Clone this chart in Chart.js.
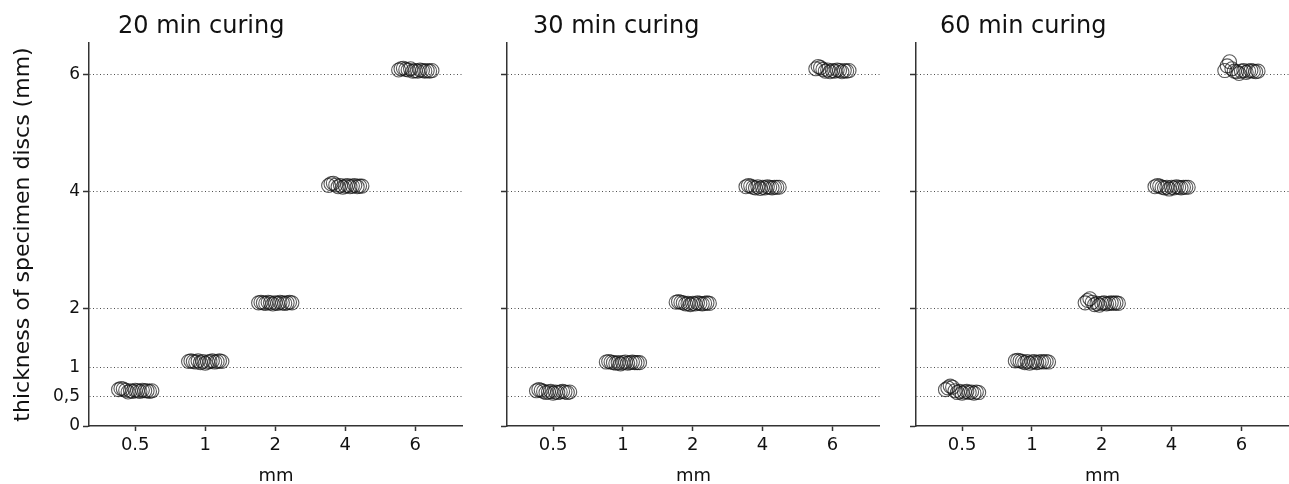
<!DOCTYPE html>
<html>
<head>
<meta charset="utf-8">
<script src="https://cdn.jsdelivr.net/npm/chart.js@4.4.0/dist/chart.umd.min.js"></script>
<style>
  html, body { margin: 0; padding: 0; background: #fff; overflow: hidden; width: 1289px; height: 484px; }
  canvas { position: absolute; top: 0; }
</style>
</head>
<body>
<canvas id="c20" width="471" height="492" style="left:0px"></canvas>
<canvas id="c30" width="408" height="492" style="left:480px"></canvas>
<canvas id="c60" width="407" height="492" style="left:890px"></canvas>
<script>
// categories on the x axis (nominal disc thickness)
const categories = ["0.5", "1", "2", "4", "6"];
const yTickValues = [0, 0.5, 1, 2, 4, 6];
const yTickLabels = ["0", "0,5", "1", "2", "4", "6"];

// measured thickness (mm), one list per category, read left to right
const cure20 = [
  [0.62, 0.64, 0.63, 0.61, 0.58, 0.60, 0.59, 0.61, 0.60, 0.59, 0.61, 0.60, 0.60, 0.59, 0.60],
  [1.10, 1.11, 1.10, 1.09, 1.11, 1.08, 1.10, 1.07, 1.09, 1.10, 1.11, 1.09, 1.10, 1.11, 1.10],
  [2.10, 2.11, 2.10, 2.09, 2.11, 2.10, 2.08, 2.10, 2.09, 2.11, 2.10, 2.09, 2.10, 2.11, 2.10],
  [4.10, 4.13, 4.14, 4.11, 4.08, 4.10, 4.07, 4.09, 4.10, 4.08, 4.09, 4.10, 4.08, 4.09, 4.09],
  [6.07, 6.09, 6.10, 6.08, 6.07, 6.09, 6.05, 6.06, 6.05, 6.07, 6.06, 6.05, 6.06, 6.05, 6.06],
];
const cure30 = [
  [0.60, 0.62, 0.61, 0.59, 0.57, 0.58, 0.59, 0.56, 0.58, 0.57, 0.58, 0.59, 0.58, 0.57, 0.58],
  [1.09, 1.10, 1.09, 1.08, 1.07, 1.08, 1.06, 1.08, 1.09, 1.07, 1.08, 1.09, 1.08, 1.08, 1.08],
  [2.11, 2.12, 2.11, 2.10, 2.08, 2.09, 2.07, 2.09, 2.08, 2.10, 2.09, 2.08, 2.09, 2.10, 2.09],
  [4.08, 4.10, 4.09, 4.07, 4.06, 4.08, 4.05, 4.07, 4.06, 4.08, 4.07, 4.06, 4.07, 4.07, 4.07],
  [6.09, 6.13, 6.11, 6.08, 6.05, 6.07, 6.04, 6.06, 6.05, 6.07, 6.06, 6.04, 6.06, 6.05, 6.06],
];
const cure60 = [
  [0.62, 0.65, 0.68, 0.66, 0.60, 0.57, 0.59, 0.56, 0.58, 0.59, 0.57, 0.58, 0.56, 0.58, 0.57],
  [1.11, 1.12, 1.11, 1.10, 1.08, 1.10, 1.07, 1.09, 1.10, 1.08, 1.09, 1.10, 1.09, 1.10, 1.09],
  [2.10, 2.14, 2.17, 2.11, 2.07, 2.09, 2.06, 2.09, 2.10, 2.08, 2.09, 2.10, 2.09, 2.10, 2.09],
  [4.08, 4.10, 4.09, 4.07, 4.06, 4.07, 4.04, 4.07, 4.06, 4.08, 4.07, 4.06, 4.07, 4.07, 4.07],
  [6.06, 6.14, 6.21, 6.09, 6.05, 6.04, 6.01, 6.05, 6.06, 6.03, 6.05, 6.06, 6.05, 6.04, 6.05],
];

const FONT = "'DejaVu Sans', sans-serif";
const INK = "#111";
const AXIS = "#333";
const SPREAD = 0.034; // horizontal spacing between points in a column

// draws the panel heading ("20 min curing") left aligned above the plot
const panelTitle = {
  id: "panelTitle",
  afterDraw(chart, args, opts) {
    const { ctx, chartArea } = chart;
    ctx.save();
    ctx.font = "24px " + FONT;
    ctx.fillStyle = INK;
    ctx.textBaseline = "alphabetic";
    ctx.fillText(opts.text, chartArea.left + opts.offset, 33);
    ctx.restore();
  },
};

function columnPoints(groups) {
  const pts = [];
  groups.forEach((vals, gi) => {
    vals.forEach((v, i) => {
      pts.push({ x: gi + (i - (vals.length - 1) / 2) * SPREAD, y: v });
    });
  });
  return pts;
}

function makePanel(id, title, groups, showY, axisWidth, titleOffset) {
  const ctx = document.getElementById(id).getContext("2d");
  return new Chart(ctx, {
    type: "scatter",
    data: {
      datasets: [
        {
          data: columnPoints(groups),
          pointRadius: 7,
          pointBorderWidth: 1.1,
          pointBorderColor: "rgba(20,20,20,0.7)",
          pointBackgroundColor: "rgba(0,0,0,0)",
          showLine: false,
        },
      ],
    },
    options: {
      responsive: false,
      animation: false,
      events: [],
      layout: { padding: { top: 43, left: 0, right: 0, bottom: 0 } },
      plugins: {
        legend: { display: false },
        tooltip: { enabled: false },
        panelTitle: { text: title, offset: titleOffset },
      },
      scales: {
        x: {
          type: "linear",
          min: -0.66,
          max: 4.68,
          afterBuildTicks: (scale) => {
            scale.ticks = categories.map((c, i) => ({ value: i }));
          },
          afterFit: (scale) => {
            scale.height = 66;
          },
          ticks: {
            callback: (v) => categories[v],
            font: { family: FONT, size: 18 },
            color: INK,
            padding: 4,
            maxRotation: 0,
            autoSkip: false,
          },
          grid: {
            drawOnChartArea: false,
            drawTicks: true,
            tickLength: 5,
            tickColor: AXIS,
            tickWidth: 1.5,
          },
          border: { color: AXIS, width: 1.5 },
          title: {
            display: true,
            text: "mm",
            font: { family: FONT, size: 18 },
            color: INK,
            padding: { top: 0, bottom: 5 },
          },
        },
        y: {
          type: "linear",
          min: 0,
          max: 6.53,
          afterBuildTicks: (scale) => {
            scale.ticks = yTickValues.map((v) => ({ value: v }));
          },
          afterFit: (scale) => {
            scale.width = axisWidth;
          },
          ticks: {
            display: showY,
            callback: (v) => yTickLabels[yTickValues.indexOf(v)],
            font: { family: FONT, size: 17 },
            color: INK,
            padding: 3,
            autoSkip: false,
          },
          grid: {
            color: (c) => (c.tick && c.tick.value === 0 ? "rgba(0,0,0,0)" : "rgba(60,60,60,0.9)"),
            lineWidth: 1,
            drawTicks: true,
            tickLength: 6,
            tickWidth: 1.5,
            tickColor: (c) =>
              c.tick && (c.tick.value === 0.5 || c.tick.value === 1) ? "rgba(0,0,0,0)" : AXIS,
          },
          border: { color: AXIS, width: 1.5, dash: [1, 2.5] },
          title: {
            display: showY,
            text: "thickness of specimen discs (mm)",
            font: { family: FONT, size: 22 },
            color: INK,
            padding: { top: 10, bottom: 0 },
          },
        },
      },
    },
    plugins: [panelTitle],
  });
}

makePanel("c20", "20 min curing", cure20, true, 89, 29);
makePanel("c30", "30 min curing", cure30, false, 27, 26);
makePanel("c60", "60 min curing", cure60, false, 26, 24);
</script>
</body>
</html>
